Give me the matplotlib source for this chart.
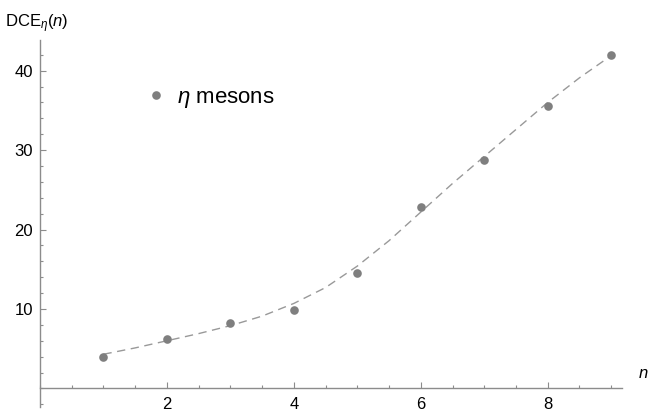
import matplotlib
matplotlib.use("Agg")
import matplotlib.pyplot as plt
from matplotlib.ticker import FixedLocator, MultipleLocator

# eta meson DCE values and the fitted curve through them
n_vals = [1, 2, 3, 4, 5, 6, 7, 8, 9]
dce_vals = [3.95, 6.2, 8.2, 9.9, 14.5, 22.9, 28.8, 35.5, 42.0]

fit_n = [1, 1.5, 2, 2.5, 3, 3.5, 4, 4.5, 5, 5.5, 6, 6.5, 7, 7.5, 8, 8.5, 9]
fit_dce = [4.3, 5.1, 6.0, 6.9, 7.9, 9.1, 10.7, 12.7, 15.4, 18.6, 22.2,
           25.8, 29.2, 32.6, 36.0, 39.1, 41.9]

x_ticks = [2, 4, 6, 8]
y_ticks = [10, 20, 30, 40]

plt.rcParams["font.family"] = ["Liberation Sans", "DejaVu Sans"]
plt.rcParams["mathtext.fontset"] = "custom"
plt.rcParams["mathtext.rm"] = "Liberation Sans"
plt.rcParams["mathtext.it"] = "Liberation Sans:italic"

POINT = "#7f7f7f"
AXIS = "#8c8c8c"

fig = plt.figure(figsize=(6.5, 4.17), dpi=100)
ax = fig.add_axes([40 / 650, 10 / 417, 582 / 650, 367 / 417])

ax.plot(fit_n, fit_dce, color="#999999", lw=1.0, ls=(0, (6, 4)), zorder=2)
ax.plot(n_vals, dce_vals, "o", color=POINT, ms=6.2, mew=0,
        label=r"$\eta$ mesons", zorder=3)

ax.set_xlim(0, 9.17)
ax.set_ylim(-2.34, 43.86)

# axes cross at the origin
for side in ("top", "right"):
    ax.spines[side].set_visible(False)
ax.spines["left"].set_position(("data", 0))
ax.spines["bottom"].set_position(("data", 0))
for side in ("left", "bottom"):
    ax.spines[side].set_color(AXIS)
    ax.spines[side].set_linewidth(1.0)

ax.xaxis.set_major_locator(FixedLocator(x_ticks))
ax.xaxis.set_minor_locator(MultipleLocator(0.5))
ax.yaxis.set_major_locator(FixedLocator(y_ticks))
ax.yaxis.set_minor_locator(MultipleLocator(2))
ax.tick_params(which="both", direction="in", color=AXIS, width=0.8,
               labelsize=12, labelcolor="black")
ax.tick_params(which="major", length=4.0)
ax.tick_params(which="minor", length=2.3)
ax.tick_params(axis="x", which="major", pad=6)
ax.tick_params(axis="y", which="major", pad=5)

fig.text(5 / 650, 1 - 27 / 417, r"$\mathrm{DCE}_{\eta}(n)$", fontsize=12,
         ha="left", va="baseline")
fig.text(639 / 650, 1 - 373 / 417, "n", fontsize=12, style="italic",
         ha="left", va="center")

ax.legend(loc="upper left", bbox_to_anchor=(145 / 650, 1 - 87 / 417),
          bbox_transform=fig.transFigure, frameon=False, fontsize=16,
          numpoints=1, handlelength=1.0, handletextpad=0.45,
          borderpad=0, borderaxespad=0)

fig.savefig("out.png", dpi=100)
